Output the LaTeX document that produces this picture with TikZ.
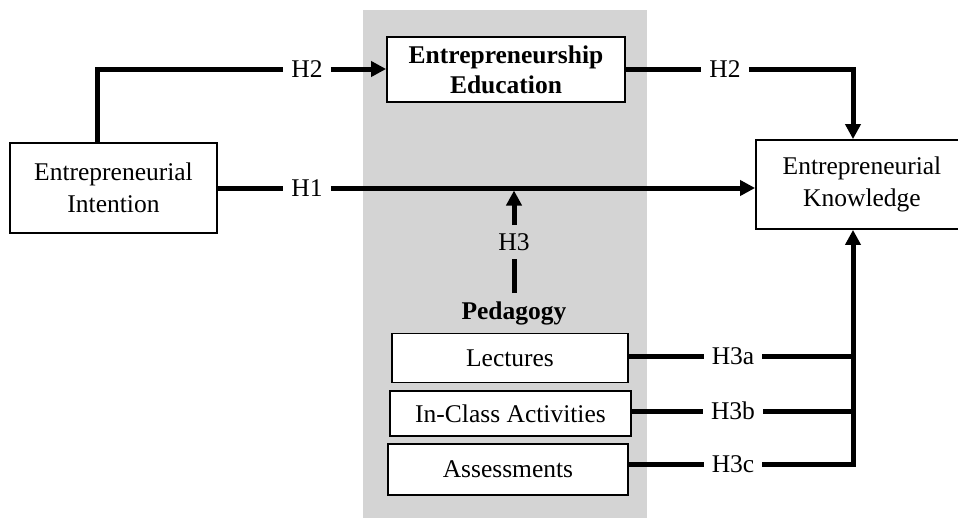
\documentclass[tikz,border=0pt]{standalone}
\usepackage{fontspec}
\setmainfont{Liberation Serif}
\usetikzlibrary{arrows.meta}
\definecolor{panelgray}{HTML}{D4D4D4}
\begin{document}
\begin{tikzpicture}[x=1pt,y=-1pt,
  txt/.style={font=\fontsize{25.5}{32}\selectfont},
  box/.style={txt,draw,fill=white,line width=1.8pt,inner sep=0pt,align=center},
  lab/.style={txt,inner xsep=8pt,inner ysep=2pt},
  link/.style={line width=5pt,line join=miter},
  arr/.style={link,-{Triangle[length=15pt,width=15pt]}}]
  \useasboundingbox (0,0) rectangle (958,517);
  % shaded panel behind the education block
  \fill[panelgray] (363,10) rectangle (647,522);

  % boxes
  \node[box,minimum width=207pt,minimum height=90pt] (EI) at (113.5,188) {Entrepreneurial\\Intention};
  \node[box,minimum width=238pt,minimum height=65pt,font=\bfseries\fontsize{25.5}{30}\selectfont] (EE) at (506,69.5) {Entrepreneurship\\Education};
  \node[box,minimum width=212pt,minimum height=89pt] (EK) at (862,184.5) {Entrepreneurial\\Knowledge};
  \node[txt,font=\bfseries\fontsize{25.5}{30}\selectfont,inner sep=0pt] (ped) at (514,313) {Pedagogy};
  \node[box,minimum width=236pt,minimum height=49pt] (lec) at (510,358) {Lectures};
  \node[box,minimum width=241pt,minimum height=45pt] (ica) at (510.5,413.5) {In-Class Activities};
  \node[box,minimum width=240pt,minimum height=51pt] (ass) at (508,469.5) {Assessments};

  % path labels
  \node[lab] (h2a) at (307,69) {H2};
  \node[lab] (h2b) at (725,69) {H2};
  \node[lab] (h1) at (307,188) {H1};
  \node[lab,inner ysep=8pt] (h3) at (514,242) {H3};
  \node[lab] (h3a) at (733,356) {H3a};
  \node[lab] (h3b) at (733,411) {H3b};
  \node[lab] (h3c) at (733,464) {H3c};

  % routing points
  \coordinate (c1) at (97,69);
  \coordinate (c2) at (853,69);
  \coordinate (c3a) at (853,356);
  \coordinate (c3b) at (853,411);
  \coordinate (c3c) at (853,464);

  % H2 path through the education block
  \draw[link] (EI.north -| c1) -- (c1) -- (h2a.west);
  \draw[arr] (h2a.east) -- (EE.west |- h2a);
  \draw[link] (EE.east |- h2b) -- (h2b.west);
  \draw[arr] (h2b.east) -- (c2) -- (c2 |- EK.north);

  % H1 direct path
  \draw[link] (EI.east |- h1) -- (h1.west);
  \draw[arr] (h1.east) -- (h1 -| EK.west);

  % H3 moderation
  \draw[arr,shorten >=2.5pt] (h3.north) -- (h3 |- h1);
  \draw[link] (ped.north) ++(0,-8) -- (h3.south);

  % pedagogy components
  \draw[link] (lec.east |- h3a) -- (h3a.west);
  \draw[link] (h3a.east) -- (c3a);
  \draw[link] (ica.east |- h3b) -- (h3b.west);
  \draw[link] (h3b.east) -- (c3b);
  \draw[link] (ass.east |- h3c) -- (h3c.west);
  \draw[arr] (h3c.east) -- (c3c) -- (c3c |- EK.south);
\end{tikzpicture}
\end{document}
